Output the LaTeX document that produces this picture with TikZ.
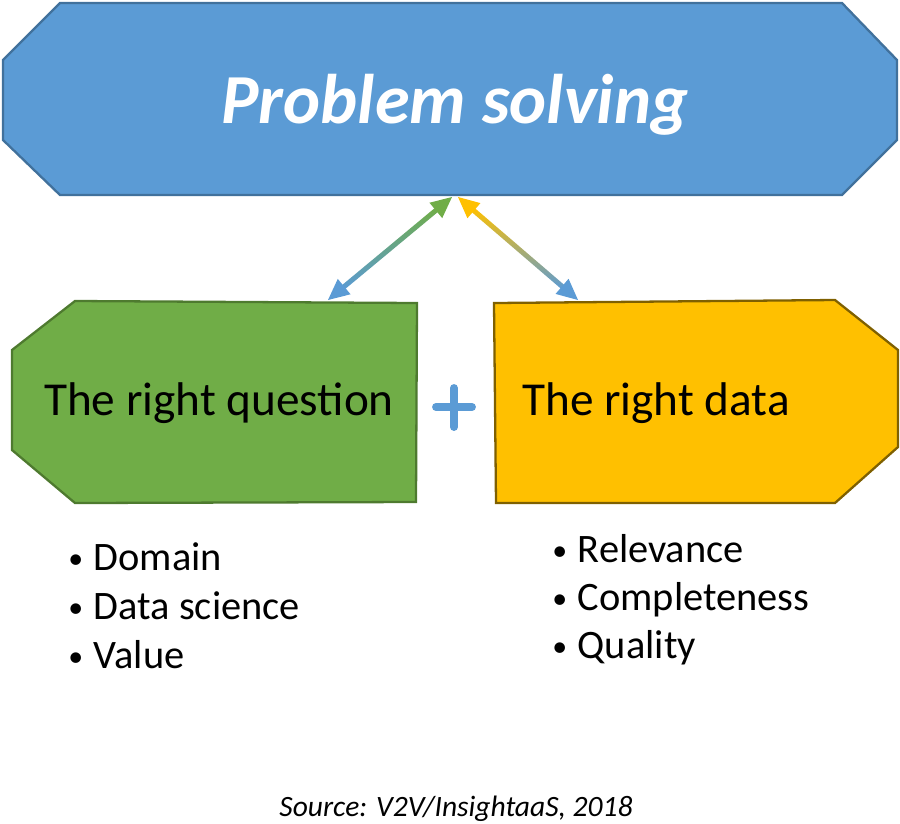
\documentclass[tikz,border=0pt]{standalone}
\usepackage{fontspec}
\setmainfont{Carlito}
\usetikzlibrary{calc}
\definecolor{probblue}{HTML}{5B9BD5}
\definecolor{probblueline}{HTML}{41719C}
\definecolor{qgreen}{HTML}{70AD47}
\definecolor{qgreenline}{HTML}{4E7A2F}
\definecolor{dyellow}{HTML}{FFC000}
\definecolor{dyellowline}{HTML}{7F6000}
\tikzset{
  octa/.style={line width=1.3pt, line join=miter},
  bigtitle/.style={text=white, font=\fontsize{40}{44}\selectfont\bfseries\itshape},
  boxlabel/.style={font=\fontsize{26.9}{30}\selectfont},
  item/.style={anchor=base west, inner sep=0pt, font=\fontsize{23}{26}\selectfont},
  source/.style={font=\fontsize{16.8}{19}\selectfont\itshape}
}
\newcommand{\gradarrow}[4]{% from, to, top colour, bottom colour
  \shade[top color=#3, bottom color=#4]
    ($($(#1)!0.38cm!(#2)$)!0.05cm!90:(#2)$) --
    ($($(#1)!0.38cm!(#2)$)!0.05cm!-90:(#2)$) --
    ($($(#2)!0.38cm!(#1)$)!0.05cm!90:(#1)$) --
    ($($(#2)!0.38cm!(#1)$)!0.05cm!-90:(#1)$) -- cycle;
  \fill[#3] (#1) -- ($($(#1)!0.42cm!(#2)$)!0.2cm!90:(#2)$)
    -- ($($(#1)!0.42cm!(#2)$)!0.2cm!-90:(#2)$) -- cycle;
  \fill[#4] (#2) -- ($($(#2)!0.42cm!(#1)$)!0.2cm!90:(#1)$)
    -- ($($(#2)!0.42cm!(#1)$)!0.2cm!-90:(#1)$) -- cycle;
}
\newcommand{\bul}{\raisebox{1pt}{\fontsize{17}{20}\selectfont\textbullet}\hspace{6pt}}
\begin{document}
\begin{tikzpicture}[x=0.02cm,y=-0.02cm]
  \useasboundingbox (0,0) rectangle (900,823);

  % top box
  \draw[octa, fill=probblue, draw=probblueline]
    (3,60) -- (60,3) -- (842,3) -- (897,60) -- (897,140) -- (842,195)
    -- (60,195) -- (3,140) -- cycle;
  \node[bigtitle, anchor=base] (title) at (455,123) {Problem solving};

  % question box
  \draw[octa, fill=qgreen, draw=qgreenline]
    (12,350) -- (75,301) -- (417,303) -- (416,502) -- (75,503) -- (12,450) -- cycle;
  \node[boxlabel, anchor=base] (question) at (219,415) {The right question};

  % data box
  \draw[octa, fill=dyellow, draw=dyellowline]
    (494,303) -- (835,300) -- (898,350) -- (898,447) -- (835,503) -- (496,503) -- cycle;
  \node[boxlabel, anchor=base] (data) at (656,415) {The right data};

  % plus
  \draw[probblue, line width=4.5pt, line cap=round] (436,407) -- (472,407);
  \draw[probblue, line width=4.5pt, line cap=round] (454,388) -- (454,427);

  % arrow ends
  \coordinate (apexL) at (452,197);
  \coordinate (apexR) at (458,197);
  \coordinate (qtop) at (328,300);
  \coordinate (dtop) at (578,300);
  \gradarrow{apexL}{qtop}{qgreen}{probblue}
  \gradarrow{apexR}{dtop}{dyellow}{probblue}

  % bullet lists
  \foreach \t [count=\i from 0] in {Domain, Data science, Value}
  {
    \node[item] (q\i) at (68,570+49*\i) {\bul\t};
  }
  \foreach \t [count=\i from 0] in {Relevance, Completeness, Quality}
  {
    \node[item] (d\i) at (552,562+48*\i) {\bul\t};
  }

  \node[source, anchor=base] (src) at (456,816) {Source: V2V/InsightaaS, 2018};
\end{tikzpicture}
\end{document}
